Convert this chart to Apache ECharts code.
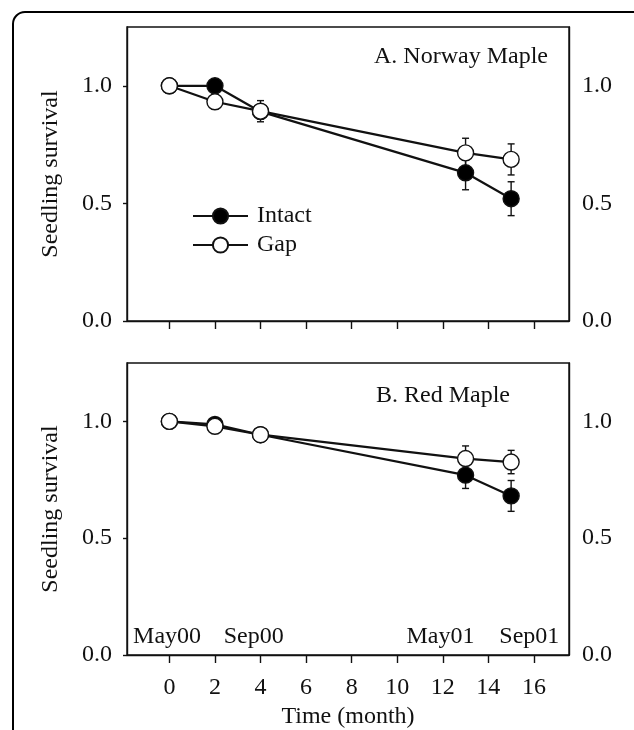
<!DOCTYPE html>
<html>
<head>
<meta charset="utf-8">
<script src="https://cdn.jsdelivr.net/npm/echarts@6/dist/echarts.min.js"></script>
<style>
  html, body { margin: 0; padding: 0; background: #fff; }
  #chart { width: 634px; height: 730px; }
</style>
</head>
<body>
<div id="chart"></div>
<script>
// time in months since May 2000
const months = [0, 2, 4, 13, 15];
const tickMonths = [0, 2, 4, 6, 8, 10, 12, 14, 16];
const yTicks = [0, 0.5, 1.0];

// A. Norway Maple
const norwayIntact = [1.0, 1.0, 0.89, 0.63, 0.52];
const norwayIntactErr = [0, 0, 0.03, 0.072, 0.072];
const norwayGap = [1.0, 0.932, 0.892, 0.715, 0.687];
const norwayGapErr = [0, 0.03, 0.045, 0.062, 0.066];

// B. Red Maple
const redIntact = [1.0, 0.987, 0.943, 0.77, 0.681];
const redIntactErr = [0, 0.01, 0.02, 0.057, 0.066];
const redGap = [1.0, 0.979, 0.943, 0.841, 0.826];
const redGapErr = [0, 0.01, 0.02, 0.054, 0.05];

// season labels along the bottom of panel B
const seasonNames = ['May00', 'Sep00', 'May01', 'Sep01'];
const seasonPos = [-0.1, 3.7, 11.9, 15.8];
const seasonY = 0.08;

const FONT = 'Liberation Serif';
const INK = '#111';

const chart = echarts.init(document.getElementById('chart'));

function pairs(ys) {
    return months.map((m, i) => [m, ys[i]]);
}

function errData(ys, errs) {
    return months.map((m, i) => [m, ys[i], errs[i]]).filter(d => d[2] > 0);
}

// vertical error bar with small caps
function renderErrorBar(params, api) {
    const x = api.value(0), y = api.value(1), e = api.value(2);
    const top = api.coord([x, y + e]);
    const bot = api.coord([x, y - e]);
    const hw = 3.5;
    const style = { stroke: INK, lineWidth: 1.4 };
    return {
        type: 'group',
        children: [
            { type: 'line', shape: { x1: top[0], y1: top[1], x2: bot[0], y2: bot[1] }, style: style },
            { type: 'line', shape: { x1: top[0] - hw, y1: top[1], x2: top[0] + hw, y2: top[1] }, style: style },
            { type: 'line', shape: { x1: bot[0] - hw, y1: bot[1], x2: bot[0] + hw, y2: bot[1] }, style: style }
        ]
    };
}

function lineSeries(name, idx, ys, filled) {
    return {
        name: name,
        type: 'line',
        xAxisIndex: idx,
        yAxisIndex: idx * 2,
        data: pairs(ys),
        symbol: 'circle',
        symbolSize: 16,
        showAllSymbol: true,
        lineStyle: { color: INK, width: 2.2 },
        itemStyle: {
            color: filled ? '#000' : '#fff',
            borderColor: INK,
            borderWidth: 1.4,
            opacity: 1
        },
        emphasis: { disabled: true },
        z: filled ? 3 : 4
    };
}

function errSeries(idx, ys, errs) {
    return {
        type: 'custom',
        xAxisIndex: idx,
        yAxisIndex: idx * 2,
        data: errData(ys, errs),
        renderItem: renderErrorBar,
        z: 1,
        silent: true
    };
}

function xAxisFor(idx, showLabels) {
    return {
        type: 'value',
        gridIndex: idx,
        min: -1.86,
        max: 17.54,
        splitLine: { show: false },
        axisLine: { show: true, onZero: false, lineStyle: { color: INK, width: 1.4 } },
        axisTick: { show: true, length: 8, lineStyle: { color: INK, width: 1.4 }, customValues: tickMonths },
        axisLabel: {
            show: showLabels,
            customValues: tickMonths,
            margin: 21,
            color: INK,
            fontFamily: FONT,
            fontSize: 24
        },
        name: showLabels ? 'Time (month)' : '',
        nameLocation: 'middle',
        nameGap: 50,
        nameTextStyle: { color: INK, fontFamily: FONT, fontSize: 24 }
    };
}

function yAxesFor(idx) {
    const common = {
        type: 'value',
        gridIndex: idx,
        min: 0,
        max: 1.25,
        splitLine: { show: false },
        axisLine: { show: true, onZero: false, lineStyle: { color: INK, width: 1.4 } }
    };
    return [
        Object.assign({}, common, {
            position: 'left',
            axisTick: { show: true, length: 4, lineStyle: { color: INK, width: 1.4 }, customValues: yTicks },
            axisLabel: {
                customValues: yTicks,
                formatter: v => v.toFixed(1),
                margin: 15,
                color: INK,
                fontFamily: FONT,
                fontSize: 24
            },
            name: 'Seedling survival',
            nameLocation: 'middle',
            nameGap: 64,
            nameTextStyle: { color: INK, fontFamily: FONT, fontSize: 24 }
        }),
        Object.assign({}, common, {
            position: 'right',
            axisTick: { show: false },
            axisLabel: {
                customValues: yTicks,
                formatter: v => v.toFixed(1),
                margin: 13,
                color: INK,
                fontFamily: FONT,
                fontSize: 24
            }
        })
    ];
}

const option = {
    animation: false,
    backgroundColor: '#fff',
    grid: [
        { left: 127, top: 27, width: 442, height: 294, show: true, borderColor: INK, borderWidth: 1.4, backgroundColor: 'transparent' },
        { left: 127, top: 363, width: 442, height: 293, show: true, borderColor: INK, borderWidth: 1.4, backgroundColor: 'transparent' }
    ],
    xAxis: [xAxisFor(0, false), xAxisFor(1, true)],
    yAxis: yAxesFor(0).concat(yAxesFor(1)),
    legend: {
        data: ['Intact', 'Gap'],
        orient: 'vertical',
        left: 187,
        top: 199,
        itemWidth: 55,
        itemHeight: 19,
        itemGap: 5,
        selectedMode: false,
        textStyle: { color: INK, fontFamily: FONT, fontSize: 24, padding: [0, 0, 0, 4] }
    },
    graphic: [
        {
            type: 'rect',
            shape: { x: 13, y: 12, width: 660, height: 760, r: 12 },
            style: { fill: 'none', stroke: '#000', lineWidth: 2 },
            silent: true
        },
        {
            type: 'text', left: 374, top: 45,
            style: { text: 'A. Norway Maple', font: '24px "Liberation Serif"', fill: INK }
        },
        {
            type: 'text', left: 376, top: 384,
            style: { text: 'B. Red Maple', font: '24px "Liberation Serif"', fill: INK }
        }
    ],
    series: [
        errSeries(0, norwayIntact, norwayIntactErr),
        errSeries(0, norwayGap, norwayGapErr),
        lineSeries('Intact', 0, norwayIntact, true),
        lineSeries('Gap', 0, norwayGap, false),
        errSeries(1, redIntact, redIntactErr),
        errSeries(1, redGap, redGapErr),
        lineSeries('Intact', 1, redIntact, true),
        lineSeries('Gap', 1, redGap, false),
        {
            type: 'scatter',
            xAxisIndex: 1,
            yAxisIndex: 2,
            symbolSize: 0,
            itemStyle: { color: '#000', opacity: 1 },
            silent: true,
            data: seasonNames.map((n, i) => ({ name: n, value: [seasonPos[i], seasonY] })),
            label: {
                show: true,
                position: 'inside',
                formatter: p => p.name,
                color: INK,
                textBorderWidth: 0,
                fontFamily: FONT,
                fontSize: 24
            }
        }
    ]
};

chart.setOption(option);
</script>
</body>
</html>
